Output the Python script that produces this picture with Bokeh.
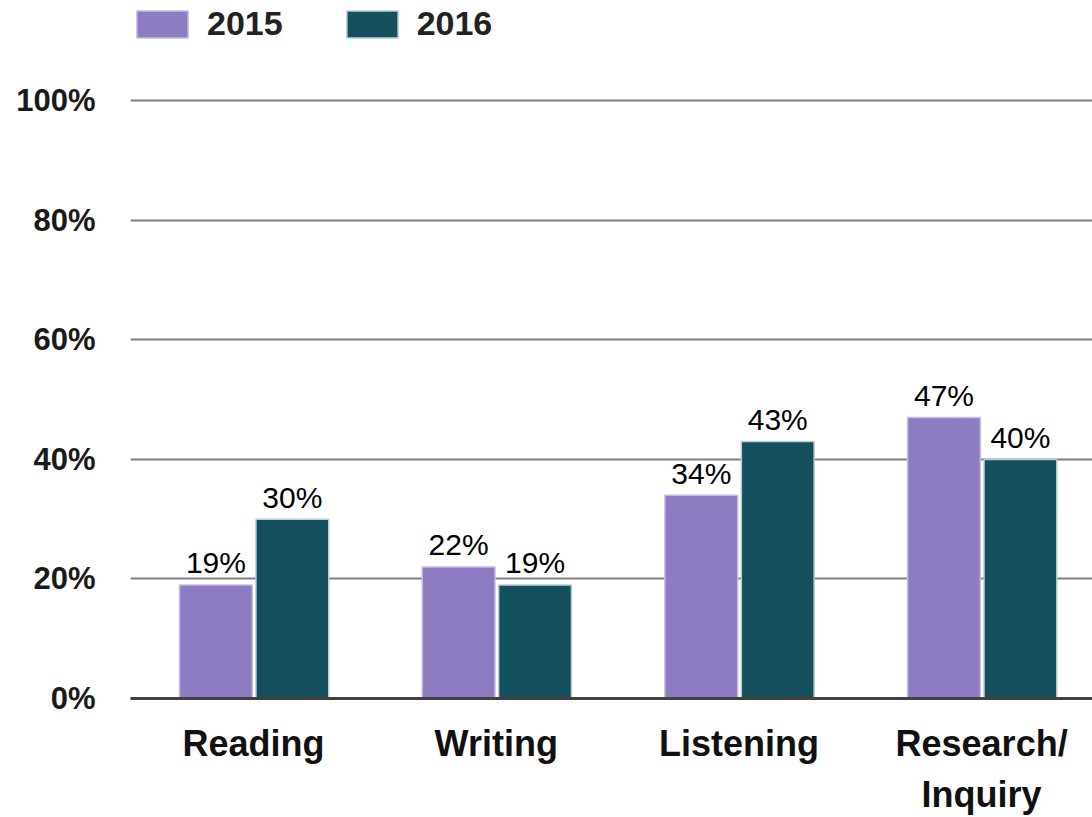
from bokeh.plotting import figure
from bokeh.models import ColumnDataSource, Range1d, FixedTicker, PrintfTickFormatter, Legend, LegendItem
from bokeh.core.properties import value
from bokeh.embed import file_html
from bokeh.resources import INLINE

categories = ["Reading", "Writing", "Listening", "Research/\nInquiry"]
series_names = ["2015", "2016"]
values_2015 = [19, 22, 34, 47]
values_2016 = [30, 19, 43, 40]
y_ticks = [0, 20, 40, 60, 80, 100]
colors = ["#8e7cc3", "#134f5c"]
edge_colors = ["#c4bce2", "#b9ced3"]

FONT = "Liberation Sans"
idx = list(range(len(categories)))
offsets = [-0.155, 0.16]
bar_w = 0.3

p = figure(width=1092, height=817, output_backend="svg", toolbar_location=None,
           x_range=Range1d(-0.507, 3.457), y_range=Range1d(0, 116.1),
           min_border_left=130, min_border_right=0, min_border_top=4, min_border_bottom=10)
p.outline_line_color = None
p.background_fill_color = "white"

renderers = []
for vals, off, col, ecol in zip([values_2015, values_2016], offsets, colors, edge_colors):
    src = ColumnDataSource(dict(x=[i + off for i in idx], top=vals,
                                lab=[f"{v}%" for v in vals]))
    r = p.vbar(x="x", top="top", bottom=0, width=bar_w, source=src,
               fill_color=col, line_color=ecol, line_width=1.5)
    renderers.append(r)
    p.text(x="x", y="top", text="lab", source=src, text_align="center",
           text_baseline="alphabetic", y_offset=-22, text_font=value(FONT),
           text_font_size="30px", text_color="#000000")

# axes
p.xaxis.ticker = FixedTicker(ticks=idx)
p.xaxis.major_label_overrides = {i: c for i, c in zip(idx, categories)}
p.xaxis.major_label_text_font = FONT
p.xaxis.major_label_text_font_style = "bold"
p.xaxis.major_label_text_font_size = "36px"
p.xaxis.major_label_text_color = "#111111"
p.xaxis.major_label_text_line_height = 1.25
p.xaxis.major_label_standoff = 24
p.xaxis.major_tick_line_color = None
p.xaxis.major_tick_out = 0
p.xaxis.major_tick_in = 0
p.xaxis.minor_tick_line_color = None
p.xaxis.axis_line_color = "#404040"
p.xaxis.axis_line_width = 3

p.yaxis.ticker = FixedTicker(ticks=y_ticks)
p.yaxis.formatter = PrintfTickFormatter(format="%d%%")
p.yaxis.major_label_text_font = FONT
p.yaxis.major_label_text_font_style = "bold"
p.yaxis.major_label_text_font_size = "31px"
p.yaxis.major_label_text_color = "#1a1a1a"
p.yaxis.major_label_standoff = 35
p.yaxis.major_tick_line_color = None
p.yaxis.major_tick_out = 0
p.yaxis.major_tick_in = 0
p.yaxis.minor_tick_line_color = None
p.yaxis.axis_line_color = None

p.xgrid.grid_line_color = None
p.ygrid.ticker = FixedTicker(ticks=y_ticks)
p.ygrid.grid_line_color = "#808080"
p.ygrid.grid_line_width = 2

legend = Legend(items=[LegendItem(label=n, renderers=[r]) for n, r in zip(series_names, renderers)],
                location="top_left", orientation="horizontal",
                glyph_width=64, glyph_height=34, label_height=34, label_standoff=13,
                spacing=57, padding=0, margin=0,
                label_text_font=FONT, label_text_font_style="bold",
                label_text_font_size="34px", label_text_color="#222222",
                background_fill_alpha=0, border_line_color=None)
p.add_layout(legend)

open("out.html", "w").write(file_html(p, INLINE))
